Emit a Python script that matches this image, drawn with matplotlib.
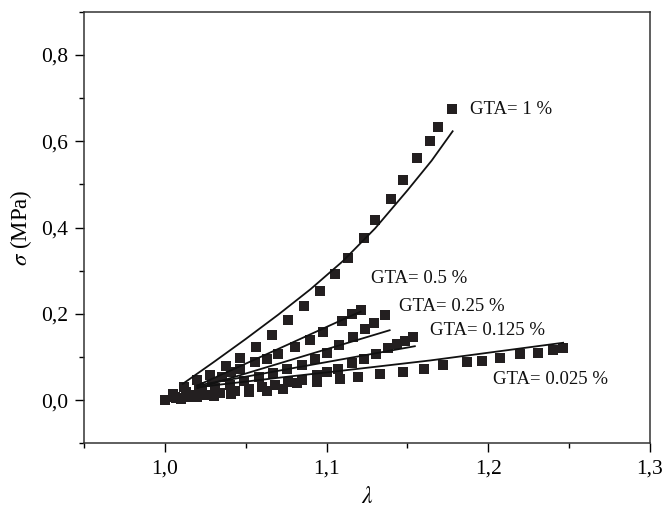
import matplotlib
matplotlib.use("Agg")
import matplotlib.pyplot as plt
from matplotlib.ticker import MultipleLocator, FuncFormatter

plt.rcParams['font.family'] = ['Liberation Serif', 'DejaVu Serif']
plt.rcParams['mathtext.fontset'] = 'stix'

# ---- data ----
lam_1 = [1.000, 1.005, 1.012, 1.020, 1.028, 1.0375, 1.0466, 1.0563, 1.0663, 1.076, 1.0857,
         1.0956, 1.105, 1.1134, 1.123, 1.130, 1.140, 1.1475, 1.156, 1.164, 1.169, 1.1776]
sig_1 = [0.000, 0.015, 0.031, 0.046, 0.059, 0.080, 0.097, 0.124, 0.151, 0.186, 0.219,
         0.253, 0.292, 0.330, 0.376, 0.417, 0.465, 0.510, 0.561, 0.600, 0.632, 0.675]

lam_05 = [1.000, 1.006, 1.013, 1.021, 1.029, 1.035, 1.041, 1.0463, 1.0558, 1.0629, 1.070,
          1.0804, 1.0897, 1.0979, 1.1093, 1.1155, 1.1212]
sig_05 = [0.000, 0.008, 0.018, 0.030, 0.042, 0.054, 0.066, 0.073, 0.089, 0.096, 0.106,
          0.123, 0.140, 0.158, 0.184, 0.199, 0.210]

lam_025 = [1.000, 1.007, 1.015, 1.023, 1.031, 1.040, 1.049, 1.058, 1.067, 1.0757, 1.0845,
           1.0928, 1.1004, 1.1078, 1.1165, 1.124, 1.1295, 1.136]
sig_025 = [0.000, 0.006, 0.013, 0.020, 0.028, 0.036, 0.045, 0.054, 0.063, 0.072, 0.081,
           0.096, 0.110, 0.127, 0.147, 0.164, 0.179, 0.197]

lam_0125 = [1.000, 1.008, 1.016, 1.025, 1.034, 1.043, 1.052, 1.060, 1.068, 1.076, 1.0845,
            1.0938, 1.1004, 1.1072, 1.1155, 1.1231, 1.1305, 1.1377, 1.1433, 1.1485, 1.1536]
sig_0125 = [0.000, 0.004, 0.008, 0.012, 0.017, 0.021, 0.026, 0.031, 0.036, 0.041, 0.046,
            0.058, 0.065, 0.073, 0.085, 0.096, 0.106, 0.120, 0.129, 0.137, 0.147]

lam_0025 = [1.000, 1.010, 1.020, 1.030, 1.041, 1.052, 1.063, 1.073, 1.0814, 1.0938, 1.108,
            1.1196, 1.133, 1.1474, 1.160, 1.1722, 1.1866, 1.1959, 1.2072, 1.2196, 1.2306,
            1.2402, 1.2464]
sig_0025 = [0.000, 0.003, 0.007, 0.010, 0.014, 0.018, 0.022, 0.027, 0.0387, 0.042, 0.049,
            0.053, 0.060, 0.065, 0.073, 0.081, 0.089, 0.091, 0.098, 0.108, 0.110,
            0.116, 0.122]

# model curves
fit_lam_1 = [1.011, 1.030, 1.050, 1.070, 1.090, 1.110, 1.130, 1.150, 1.165, 1.178]
fit_sig_1 = [0.038, 0.088, 0.142, 0.198, 0.257, 0.322, 0.398, 0.486, 0.555, 0.623]
fit_lam_05 = [1.020, 1.0773, 1.1113, 1.121]
fit_sig_05 = [0.034, 0.131, 0.189, 0.205]
fit_lam_025 = [1.020, 1.0773, 1.139]
fit_sig_025 = [0.028, 0.0926, 0.162]
fit_lam_0125 = [1.020, 1.0773, 1.1546]
fit_sig_0125 = [0.034, 0.073, 0.125]
fit_lam_0025 = [1.020, 1.0773, 1.104, 1.164, 1.2464]
fit_sig_0025 = [0.030, 0.055, 0.066, 0.092, 0.133]

labels = ['GTA= 1 %', 'GTA= 0.5 %', 'GTA= 0.25 %', 'GTA= 0.125 %', 'GTA= 0.025 %']
label_pos = [(1.189, 0.674), (1.1276, 0.282), (1.1451, 0.2176), (1.1642, 0.162), (1.2032, 0.0486)]

xticks = [1.0, 1.1, 1.2, 1.3]
yticks = [0.0, 0.2, 0.4, 0.6, 0.8]

# ---- plot ----
fig = plt.figure(figsize=(6.64, 5.09), dpi=100)
ax = fig.add_axes([0.127, 0.129, 0.8515, 0.848])

mk = '#231f20'
series = [(lam_1, sig_1), (lam_05, sig_05), (lam_025, sig_025), (lam_0125, sig_0125), (lam_0025, sig_0025)]
fits = [(fit_lam_1, fit_sig_1), (fit_lam_05, fit_sig_05), (fit_lam_025, fit_sig_025),
        (fit_lam_0125, fit_sig_0125), (fit_lam_0025, fit_sig_0025)]
for (lx, sy) in series:
    ax.plot(lx, sy, 's', color=mk, markersize=7.4, markeredgewidth=0, zorder=3)
for (lx, sy) in fits:
    ax.plot(lx, sy, '-', color='#111111', lw=1.3, zorder=4)

for txt, (x, y) in zip(labels, label_pos):
    ax.text(x, y, txt, fontsize=13.5, ha='left', va='center', color='#111111')

ax.set_xlim(0.95, 1.3)
ax.set_ylim(-0.1, 0.9)
ax.set_xticks(xticks)
ax.set_yticks(yticks)
ax.xaxis.set_minor_locator(MultipleLocator(0.05))
ax.yaxis.set_minor_locator(MultipleLocator(0.1))
fmt = FuncFormatter(lambda v, p: f'{v:.1f}'.replace('.', ','))
ax.xaxis.set_major_formatter(fmt)
ax.yaxis.set_major_formatter(fmt)

ax.tick_params(which='major', direction='out', length=6.5, width=1.0, labelsize=15.5,
               top=False, right=False, pad=5)
ax.tick_params(which='minor', direction='out', length=3.8, width=1.0, top=False, right=False)
for s in ax.spines.values():
    s.set_linewidth(1.1)
    s.set_color('#333333')

ax.set_xlabel(r'$\lambda$', fontsize=17, labelpad=6)
ax.set_ylabel(r'$\sigma$ (MPa)', fontsize=16.5, labelpad=5.5)

fig.savefig('out.png', dpi=100)
